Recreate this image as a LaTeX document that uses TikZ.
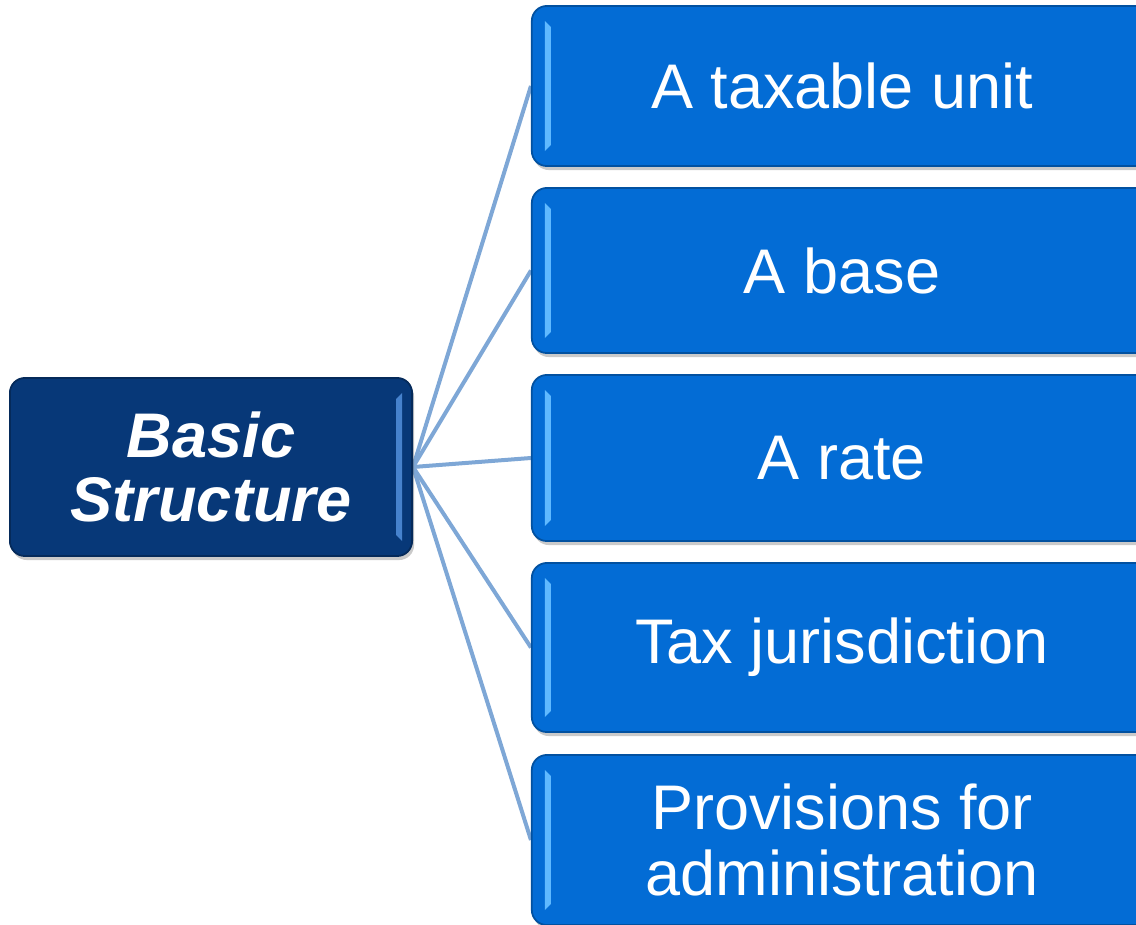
\documentclass[tikz,border=0pt]{standalone}
\usepackage{fontspec}
\setmainfont{Liberation Sans}
\usetikzlibrary{shadows,calc,backgrounds}

\definecolor{navybox}{RGB}{7,56,120}
\definecolor{bluebox}{RGB}{3,108,213}
\definecolor{linkblue}{RGB}{126,167,214}
\definecolor{bevellight}{RGB}{95,185,255}
\definecolor{bevelnavy}{RGB}{70,130,205}

\tikzset{
  % light strip inside the left edge, with slanted ends
  leftbevel/.style={path picture={
    \fill[#1, sharp corners]
      ($(path picture bounding box.north west)+(0.13cm,-0.15cm)$) -- ++(0.06cm,-0.06cm)
      -- ($(path picture bounding box.south west)+(0.19cm,0.21cm)$) -- ++(-0.06cm,-0.06cm) -- cycle;
  }},
  % light strip inside the right edge
  rightbevel/.style={path picture={
    \fill[#1, sharp corners]
      ($(path picture bounding box.north east)+(-0.10cm,-0.15cm)$) -- ++(-0.06cm,-0.06cm)
      -- ($(path picture bounding box.south east)+(-0.16cm,0.21cm)$) -- ++(0.06cm,-0.06cm) -- cycle;
  }},
  % darker band along the bottom edge
  bottomband/.style={path picture={
    \shade[sharp corners, top color=#1, bottom color=#1!65!black]
      ($(path picture bounding box.south west)+(0,0.13cm)$) rectangle (path picture bounding box.south east);
  }},
  panel/.style={rounded corners=0.15cm, draw=#1!75!black, line width=0.5pt, fill=#1,
    text=white, align=center, inner sep=0pt,
    drop shadow={shadow xshift=0.02cm, shadow yshift=-0.04cm, opacity=0.35, fill=black!60}},
  corebox/.style={panel=navybox, bottomband=navybox, leftbevel=bevelnavy, rightbevel=bevelnavy,
    minimum width=4.02cm, minimum height=1.78cm,
    font=\fontsize{0.63cm}{0.64cm}\selectfont\bfseries\itshape},
  itembox/.style={panel=bluebox, bottomband=bluebox, leftbevel=bevellight,
    minimum width=6.2cm, minimum height=#1,
    font=\fontsize{0.63cm}{0.66cm}\selectfont},
  link/.style={draw=linkblue, line width=0.04cm},
}

\begin{document}
\begin{tikzpicture}[x=0.01cm, y=-0.01cm]
  \useasboundingbox (0,0) rectangle (1136,925);
  \clip (0,0) rectangle (1136,925);

  \node[corebox] (core) at (211,467) {Basic\\Structure};

  \node[itembox=1.60cm] (unit)  at (842,86)    {A taxable unit};
  \node[itembox=1.65cm] (base)  at (842,270.5) {A base};
  \node[itembox=1.66cm] (rate)  at (842,458)   {A rate};
  \node[itembox=1.69cm] (juris) at (842,647.5) {Tax jurisdiction};
  \node[itembox=1.70cm] (admin) at (842,840)   {Provisions for\\administration};

  \begin{scope}[on background layer]
    \foreach \t in {unit,base,rate,juris,admin}
      \draw[link] (core.east) -- (\t.west);
  \end{scope}
\end{tikzpicture}
\end{document}
